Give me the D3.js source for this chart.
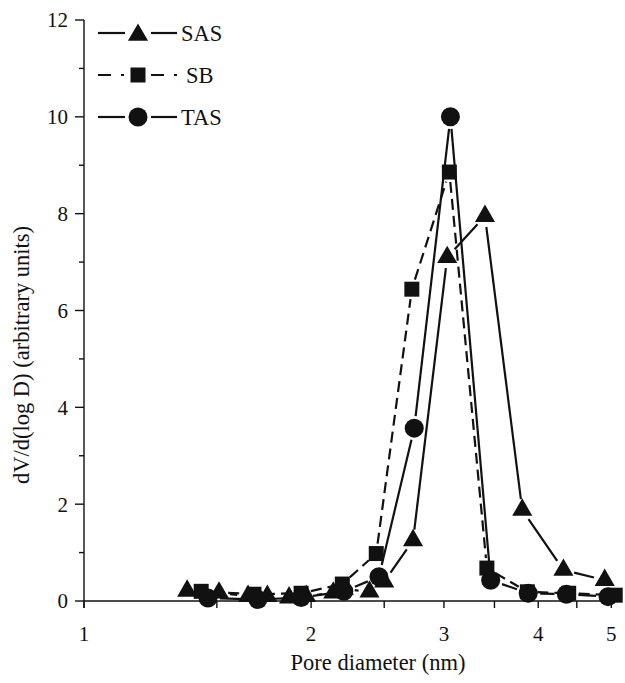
<!DOCTYPE html>
<html>
<head>
  <meta charset="UTF-8">
  <title>Pore size distribution</title>
  <style>
    body {
      margin: 0;
      background: #fff;
    }
    svg {
      display: block;
    }
    .axis-line, .tick {
      stroke: #111;
      stroke-width: 1.4px;
    }
    .seg {
      stroke: #111;
      stroke-width: 2.2px;
      fill: none;
    }
  </style>
</head>
<body>
  <svg width="625" height="683"></svg>
  <script src="https://d3js.org/d3.v7.min.js"></script>
  <script>
    // pore diameter (nm) and dV/d(log D) for each sample
    const sasD = [1.37, 1.51, 1.65, 1.75, 1.87, 1.97, 2.14, 2.21, 2.39, 2.50, 2.73, 3.03, 3.40, 3.81, 4.32, 4.90];
    const sasV = [0.21, 0.17, 0.10, 0.10, 0.07, 0.10, 0.17, 0.25, 0.19, 0.40, 1.25, 7.10, 7.95, 1.88, 0.64, 0.43];
    const sbD = [1.43, 1.68, 1.94, 2.20, 2.44, 2.72, 3.05, 3.42, 3.87, 4.39, 5.06];
    const sbV = [0.20, 0.14, 0.16, 0.35, 0.98, 6.44, 8.86, 0.68, 0.19, 0.16, 0.12];
    const tasD = [1.46, 1.70, 1.94, 2.21, 2.46, 2.74, 3.06, 3.46, 3.88, 4.36, 4.95];
    const tasV = [0.06, 0.03, 0.07, 0.20, 0.50, 3.57, 10.0, 0.43, 0.16, 0.14, 0.09];

    const seriesNames = ["SAS", "SB", "TAS"];
    const xMajor = [1, 2, 3, 4, 5];
    const xMinor = [1.5, 2.5, 3.5, 4.5];
    const yMajor = [0, 2, 4, 6, 8, 10, 12];
    const yMinor = [1, 3, 5, 7, 9, 11];

    const ink = "#111";
    const svg = d3.select("svg");

    // shared text styling, set inline on each label
    function label(sel, size) {
      return sel.style("font-family", '"Liberation Serif"')
        .style("font-size", size + "px")
        .style("fill", ink);
    }

    const x = d3.scaleLog().domain([1, 5.15]).range([84, 621]);
    const y = d3.scaleLinear().domain([0, 12]).range([601, 20]);

    const series = [
      { name: "SAS", d: sasD, v: sasV, symbol: d3.symbolTriangle, size: 175, trim: 11, dash: null, legendDash: null },
      { name: "SB", d: sbD, v: sbV, symbol: d3.symbolSquare, size: 225, trim: 10, dash: "11,6", legendDash: "13,10,3,10" },
      { name: "TAS", d: tasD, v: tasV, symbol: d3.symbolCircle, size: Math.PI * 9.5 * 9.5, trim: 12, dash: null, legendDash: null }
    ];

    // axes
    svg.append("line").attr("class", "axis-line")
      .attr("x1", x.range()[0]).attr("x2", x.range()[1])
      .attr("y1", y(0)).attr("y2", y(0));
    svg.append("line").attr("class", "axis-line")
      .attr("x1", x(1)).attr("x2", x(1))
      .attr("y1", y(12)).attr("y2", y(0) + 7);

    svg.selectAll(".xtick").data(xMajor.concat(xMinor)).enter().append("line")
      .attr("class", "tick")
      .attr("x1", d => x(d)).attr("x2", d => x(d))
      .attr("y1", y(0)).attr("y2", y(0) + 7);

    label(svg.selectAll(".xlab").data(xMajor).enter().append("text"), 21)
      .attr("x", d => x(d)).attr("y", 641)
      .attr("text-anchor", "middle")
      .text(d => d);

    svg.selectAll(".ytick").data(yMajor).enter().append("line")
      .attr("class", "tick")
      .attr("x1", x(1) - 9).attr("x2", x(1))
      .attr("y1", d => y(d)).attr("y2", d => y(d));
    svg.selectAll(".ytickm").data(yMinor).enter().append("line")
      .attr("class", "tick")
      .attr("x1", x(1) - 5).attr("x2", x(1))
      .attr("y1", d => y(d)).attr("y2", d => y(d));

    label(svg.selectAll(".ylab").data(yMajor).enter().append("text"), 21)
      .attr("x", 68).attr("y", d => y(d))
      .attr("dy", "0.35em")
      .attr("text-anchor", "end")
      .text(d => d);

    label(svg.append("text"), 22.5)
      .attr("x", 378).attr("y", 670)
      .attr("text-anchor", "middle")
      .text("Pore diameter (nm)");

    label(svg.append("text"), 22.5)
      .attr("transform", "translate(29,355) rotate(-90)")
      .attr("text-anchor", "middle")
      .text("dV/d(log D) (arbitrary units)");

    // connecting segments stop short of the markers
    function segments(s) {
      const pts = s.d.map((d, i) => [x(d), y(s.v[i])]);
      const out = [];
      for (let i = 0; i < pts.length - 1; i++) {
        const [x1, y1] = pts[i], [x2, y2] = pts[i + 1];
        const len = Math.hypot(x2 - x1, y2 - y1);
        if (len <= 2 * s.trim + 1) continue;
        const ux = (x2 - x1) / len, uy = (y2 - y1) / len;
        out.push([x1 + ux * s.trim, y1 + uy * s.trim, x2 - ux * s.trim, y2 - uy * s.trim]);
      }
      return out;
    }

    series.forEach(s => {
      const g = svg.append("g");
      g.selectAll("line").data(segments(s)).enter().append("line")
        .attr("class", "seg")
        .attr("x1", d => d[0]).attr("y1", d => d[1])
        .attr("x2", d => d[2]).attr("y2", d => d[3])
        .attr("stroke-dasharray", s.dash);
    });

    series.forEach(s => {
      svg.append("g").selectAll("path").data(s.d).enter().append("path")
        .attr("d", d3.symbol().type(s.symbol).size(s.size))
        .attr("transform", (d, i) => `translate(${x(d)},${y(s.v[i])})`)
        .attr("fill", ink);
    });

    // legend
    const legend = svg.append("g");
    series.forEach((s, i) => {
      const ly = 33 + i * 42;
      legend.append("line").attr("class", "seg")
        .attr("x1", 98).attr("x2", 125).attr("y1", ly).attr("y2", ly)
        .attr("stroke-dasharray", s.legendDash);
      legend.append("line").attr("class", "seg")
        .attr("x1", 151).attr("x2", 177).attr("y1", ly).attr("y2", ly)
        .attr("stroke-dasharray", s.legendDash);
      legend.append("path")
        .attr("d", d3.symbol().type(s.symbol).size(s.size))
        .attr("transform", `translate(138,${ly + (s.symbol === d3.symbolTriangle ? 2 : 0)})`)
        .attr("fill", ink);
      label(legend.append("text"), 22.5)
        .attr("x", s.name === "SB" ? 186 : 181).attr("y", ly)
        .attr("dy", "0.35em")
        .text(seriesNames[i]);
    });
  </script>
</body>
</html>
